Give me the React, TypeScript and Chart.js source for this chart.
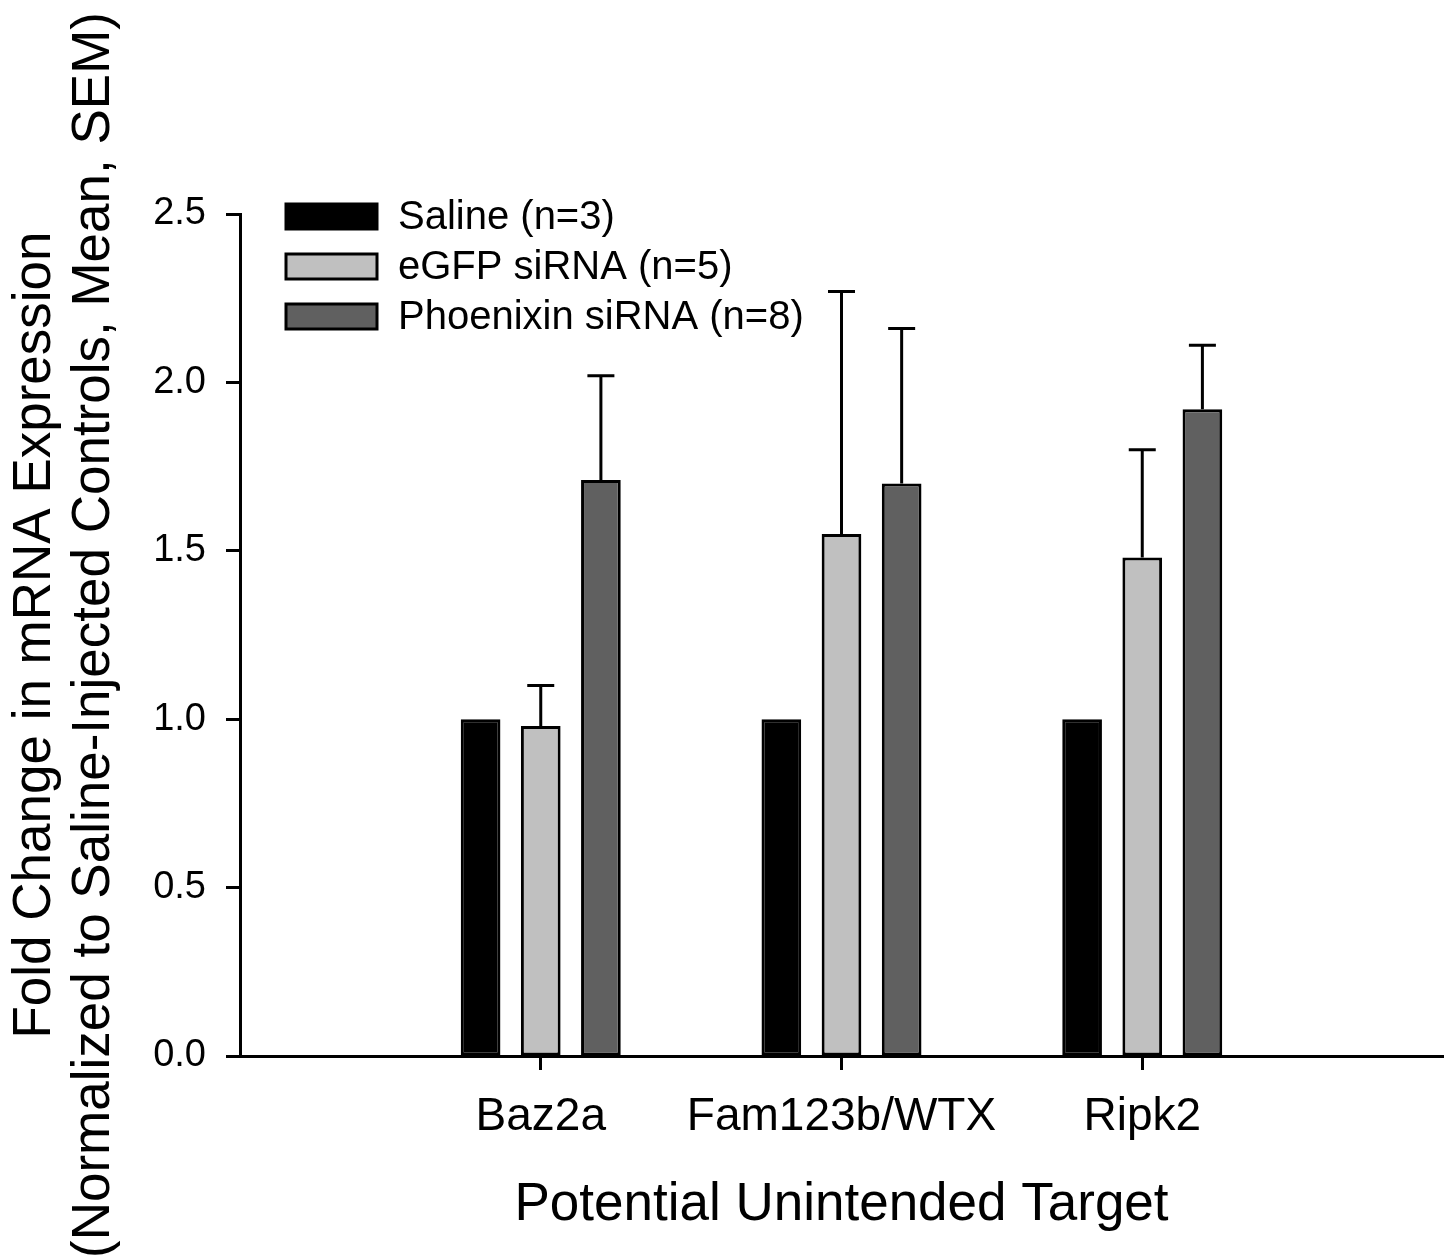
import React, { useEffect, useRef } from 'react';
import { Chart, registerables } from 'chart.js';

Chart.register(...registerables);

const categories = ['Baz2a', 'Fam123b/WTX', 'Ripk2'];
const seriesNames = ['Saline (n=3)', 'eGFP siRNA (n=5)', 'Phoenixin siRNA (n=8)'];
const salineMean = [1.0, 1.0, 1.0];
const salineSem = [0, 0, 0];
const egfpMean = [0.98, 1.55, 1.48];
const egfpSem = [0.12, 0.72, 0.32];
const phoenixinMean = [1.71, 1.70, 1.92];
const phoenixinSem = [0.31, 0.46, 0.19];
const seriesColors = ['#000000', '#c0c0c0', '#606060'];
const yTicks = [0, 0.5, 1.0, 1.5, 2.0, 2.5];
const yTitle = ['Fold Change in mRNA Expression', '(Normalized to Saline-Injected Controls, Mean, SEM)'];
const xTitle = 'Potential Unintended Target';

const FONT = '"Liberation Sans", Arial, Helvetica, sans-serif';

const paddedLabels = ['', ...categories, ''];
const pad = (arr: number[]) => [null, ...arr, null];

const errorBarPlugin = {
  id: 'errorBars',
  afterDatasetsDraw(chart: any) {
    const ctx = chart.ctx;
    const ys = chart.scales.y;
    chart.data.datasets.forEach((ds: any, di: number) => {
      const meta = chart.getDatasetMeta(di);
      meta.data.forEach((bar: any, i: number) => {
        const v = ds.data[i];
        const e = ds.sem ? ds.sem[i] : null;
        if (v == null || e == null || !e) return;
        const x = bar.x;
        const y0 = ys.getPixelForValue(v);
        const y1 = ys.getPixelForValue(v + e);
        ctx.save();
        ctx.strokeStyle = '#000';
        ctx.lineWidth = 3;
        ctx.beginPath();
        ctx.moveTo(x, y0);
        ctx.lineTo(x, y1);
        ctx.moveTo(x - 13.5, y1);
        ctx.lineTo(x + 13.5, y1);
        ctx.stroke();
        ctx.restore();
      });
    });
  },
};

const legendPlugin = {
  id: 'insideLegend',
  afterDraw(chart: any) {
    const ctx = chart.ctx;
    const { left, top } = chart.chartArea;
    ctx.save();
    chart.data.datasets.forEach((ds: any, i: number) => {
      const sx = left + 46;
      const sy = top - 10 + i * 50;
      ctx.fillStyle = ds.backgroundColor;
      ctx.fillRect(sx, sy, 91, 25);
      ctx.strokeStyle = '#000';
      ctx.lineWidth = 3;
      ctx.strokeRect(sx, sy, 91, 25);
      ctx.fillStyle = '#000';
      ctx.font = `40px ${FONT}`;
      ctx.textBaseline = 'middle';
      ctx.textAlign = 'left';
      ctx.fillText(ds.label, left + 158, sy + 14);
    });
    ctx.restore();
  },
};

export default function App() {
  const ref = useRef<HTMLCanvasElement>(null);
  useEffect(() => {
    if (!ref.current) return;
    const means = [salineMean, egfpMean, phoenixinMean];
    const sems = [salineSem, egfpSem, phoenixinSem];
    const chart = new Chart(ref.current, {
      type: 'bar',
      data: {
        labels: paddedLabels,
        datasets: seriesNames.map((name, i) => ({
          label: name,
          data: pad(means[i]),
          sem: pad(sems[i]),
          backgroundColor: seriesColors[i],
          borderColor: '#000',
          borderWidth: 3,
          borderSkipped: false,
          categoryPercentage: 0.6,
          barPercentage: 0.66,
        })) as any,
      },
      options: {
        animation: false,
        responsive: false,
        layout: { padding: { top: 214, right: 9, left: 0, bottom: 0 } },
        plugins: { legend: { display: false }, tooltip: { enabled: false } },
        scales: {
          x: {
            type: 'category',
            offset: false,
            grid: {
              offset: false,
              drawOnChartArea: false,
              drawTicks: true,
              tickLength: 14,
              tickWidth: 3,
              tickColor: (c: any) => (c.index === 0 || c.index === paddedLabels.length - 1 ? 'rgba(0,0,0,0)' : '#000'),
            },
            border: { display: true, color: '#000', width: 3 },
            ticks: {
              color: '#000',
              font: { family: FONT, size: 46 },
              padding: 20,
              maxRotation: 0,
              autoSkip: false,
            },
            title: {
              display: true,
              text: xTitle,
              color: '#000',
              font: { family: FONT, size: 53 },
              padding: { top: 0, bottom: 19 },
            },
            afterFit: (s: any) => { s.height = 200; s.paddingLeft = 0; s.paddingRight = 0; },
          },
          y: {
            min: 0,
            max: 2.5,
            afterBuildTicks: (s: any) => { s.ticks = yTicks.map((v) => ({ value: v })); },
            grid: {
              drawOnChartArea: false,
              drawTicks: true,
              tickLength: 14,
              tickWidth: 3,
              tickColor: '#000',
            },
            border: { display: true, color: '#000', width: 3 },
            ticks: {
              color: '#000',
              font: { family: FONT, size: 38 },
              padding: 20,
              callback: (v: any) => Number(v).toFixed(1),
            },
            title: {
              display: true,
              text: yTitle,
              color: '#000',
              font: { family: FONT, size: 53, lineHeight: 1.13 },
              padding: { top: 5, bottom: 0 },
            },
            afterFit: (s: any) => { s.width = 240; },
          },
        },
      } as any,
      plugins: [errorBarPlugin, legendPlugin],
    });
    return () => chart.destroy();
  }, []);
  return (
    <div style={{ position: 'absolute', left: 0, top: 0, width: 1452, height: 1256, background: '#fff' }}>
      <canvas ref={ref} width={1452} height={1256} style={{ display: 'block' }} />
    </div>
  );
}
